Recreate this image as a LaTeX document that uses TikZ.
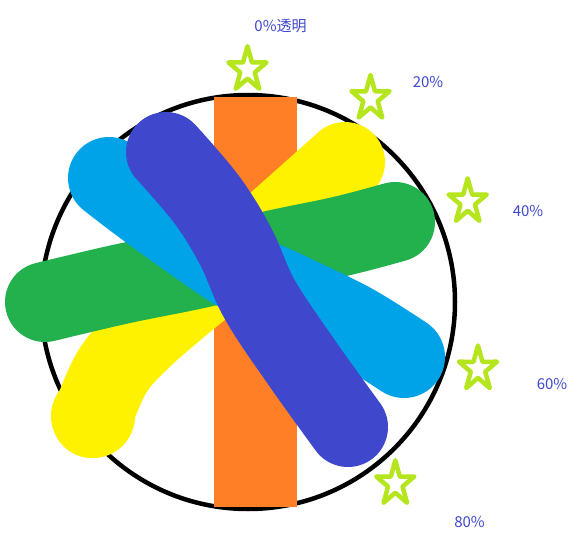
\documentclass[tikz,border=0pt]{standalone}
\usepackage{fontspec}
\setmainfont{Noto Sans CJK SC}
\definecolor{cOrange}{HTML}{FF7F27}
\definecolor{cYellow}{HTML}{FFF200}
\definecolor{cGreen}{HTML}{22B14C}
\definecolor{cLight}{HTML}{00A2E8}
\definecolor{cDark}{HTML}{3F48CC}
\definecolor{cStar}{HTML}{B5E61D}
\newcommand\drawstar[2]{%
  \begin{scope}[shift={(#1,#2)},yscale=-1.175]
    \draw[starline] (90:20)--(126:7.6)--(162:20)--(198:7.6)--(234:20)--(270:7.6)--(306:20)--(342:7.6)--(18:20)--(54:7.6)--cycle;
  \end{scope}}
\begin{document}
\begin{tikzpicture}[x=1pt,y=-1pt,
  brush/.style={line width=80pt,line cap=round,line join=round},
  starline/.style={draw=cStar,line width=4.5pt,line join=round},
  lbl/.style={text=cDark,inner sep=0pt,font=\fontsize{15}{18}\selectfont}]
\useasboundingbox (0,0) rectangle (584,543);
\fill[white] (0,0) rectangle (584,543);
% circle
\draw[line width=4.5pt] (248,302) circle[radius=207pt];
% orange bar
\fill[cOrange] (214,97) rectangle (297,507);
% yellow
\draw[brush,cYellow] plot[smooth,tension=0.6] coordinates {(92,418) (112,372) (140,340) (180,305) (225,268) (280,220) (345,162)};
\fill[cYellow] (93,416) circle[radius=42pt];
% green
\draw[brush,cGreen] plot[smooth,tension=0.6] coordinates {(45,302) (74,295) (126,283) (200,268) (275,250) (342,236) (395,222)};
% light blue
\draw[brush,line width=82pt,cLight] plot[smooth,tension=0.6] coordinates {(109,178) (147,207) (200,245) (239,271) (270,285) (300,299) (353,325) (404,357)};
% dark blue
\draw[brush,cDark] plot[smooth,tension=0.6] coordinates {(166,152) (207,200) (236,247) (260,300) (302,363) (348,427)};
% stars
\drawstar{247.5}{69.7}
\drawstar{370.5}{98.5}
\drawstar{467.7}{201.8}
\drawstar{478}{369}
\drawstar{395.3}{483.8}
% labels
\node[lbl] (l0) at (280.5,26) {0\%透明};
\node[lbl] (l20) at (428,82) {20\%};
\node[lbl] (l40) at (528,211) {40\%};
\node[lbl] (l60) at (552,384) {60\%};
\node[lbl] (l80) at (469.5,522) {80\%};
\end{tikzpicture}
\end{document}
